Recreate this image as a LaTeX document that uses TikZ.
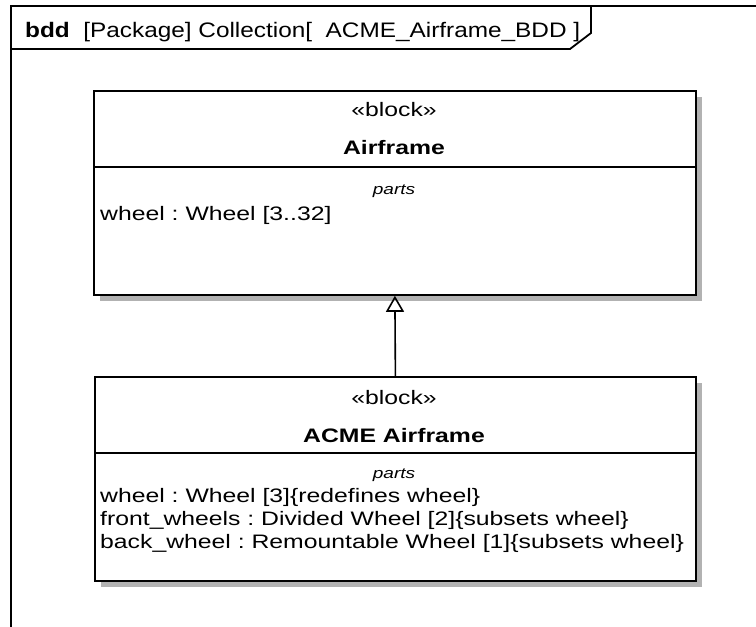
\documentclass[tikz,border=0pt]{standalone}
\usepackage{fontspec}
\setmainfont{Liberation Sans}[FakeStretch=1.27]
\newfontfamily\headfont{Liberation Sans}[FakeStretch=1.16]
\usetikzlibrary{arrows.meta,shadows}
\frenchspacing

\tikzset{
  x=1pt, y=-1pt,
  frameline/.style={line width=1.8pt, black},
  blockbox/.style={draw=black, line width=1.8pt, fill=white, anchor=north west,
    inner sep=0pt, general shadow={fill=black!30, shadow xshift=6pt, shadow yshift=-6pt}},
  divider/.style={line width=1.4pt, black},
  stereo/.style={font=\fontsize{19.5}{22}\selectfont, inner sep=0pt, anchor=base},
  blockname/.style={font=\fontsize{19.5}{22}\selectfont\bfseries, inner sep=0pt, anchor=base},
  comptitle/.style={font=\fontsize{15}{17}\selectfont\itshape, inner sep=0pt, anchor=base},
  partline/.style={font=\fontsize{19.5}{22}\selectfont, inner sep=0pt, anchor=base west},
  headtext/.style={font=\headfont\fontsize{21}{24}\selectfont, inner sep=0pt, anchor=base west},
  genarrow/.style={line width=1.6pt, -{Triangle[open, width=18pt, length=16pt, line width=1.6pt]}},
}

\begin{document}
\begin{tikzpicture}
\useasboundingbox (0,0) rectangle (756,627);
\clip (0,0) rectangle (756,627);

% diagram frame with its name tab
\draw[frameline] (11,640) -- (11,6) -- (770,6);
\draw[frameline] (11,49) -- (570,49) -- (591,33) -- (591,6);
\node[headtext] (title) at (25,37) {\textbf{bdd}\ \ [Package] Collection[\ \ ACME\_Airframe\_BDD ]};

% block Airframe
\node[blockbox, minimum width=602pt, minimum height=204pt] (airframe) at (93,90) {};
\draw[divider] (93,167) coordinate (afdl) -- (695,167) coordinate (afdr);
\node[stereo] (afst) at (394,116) {«block»};
\node[blockname] (afname) at (394,154) {Airframe};
\node[comptitle] (afparts) at (394,194) {parts};
\node[partline] (afp1) at (100,220) {wheel : Wheel [3..32]};

% block ACME Airframe
\node[blockbox, minimum width=601pt, minimum height=204pt] (acme) at (94,376) {};
\draw[divider] (94,453) coordinate (acdl) -- (695,453) coordinate (acdr);
\node[stereo] (acst) at (394,404) {«block»};
\node[blockname] (acname) at (394,442) {ACME Airframe};
\node[comptitle] (acparts) at (394,478) {parts};
\node[partline] (acp1) at (100,502) {wheel : Wheel [3]\{redefines wheel\}};
\node[partline] (acp2) at (100,525) {front\_wheels : Divided Wheel [2]\{subsets wheel\}};
\node[partline] (acp3) at (100,548) {back\_wheel : Remountable Wheel [1]\{subsets wheel\}};

% generalization
\draw[genarrow] (acme.north) -- (airframe.south);
\end{tikzpicture}
\end{document}
